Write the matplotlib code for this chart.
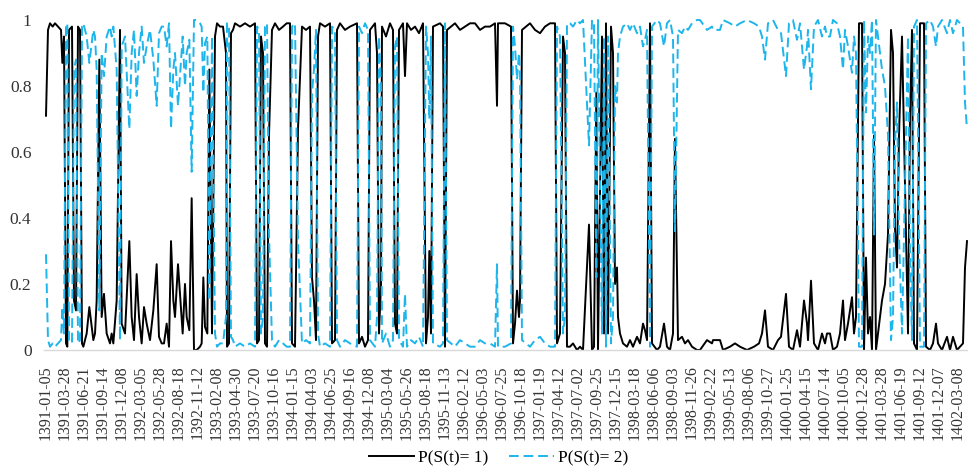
import numpy as np
import matplotlib.pyplot as plt

plt.rcParams['font.family'] = ['Liberation Serif', 'DejaVu Serif']

# tick labels on the category axis (one label every 57 trading days)
dates = ['1391-01-05', '1391-03-28', '1391-06-21', '1391-09-14', '1391-12-08',
         '1392-03-05', '1392-05-28', '1392-08-18', '1392-11-12', '1393-02-08',
         '1393-04-30', '1393-07-20', '1393-10-16', '1394-01-15', '1394-04-03',
         '1394-06-25', '1394-09-16', '1394-12-08', '1395-03-04', '1395-05-26',
         '1395-08-18', '1395-11-13', '1396-02-12', '1396-05-03', '1396-07-25',
         '1396-10-18', '1397-01-19', '1397-04-12', '1397-07-02', '1397-09-25',
         '1397-12-15', '1398-03-18', '1398-06-06', '1398-09-03', '1398-11-26',
         '1399-02-22', '1399-05-13', '1399-08-06', '1399-10-27', '1400-01-25',
         '1400-04-15', '1400-07-14', '1400-10-05', '1400-12-28', '1401-03-28',
         '1401-06-19', '1401-09-12', '1401-12-07', '1402-03-08']
label_step = 57

# P(S(t)=1) as (trading day, probability)
p1_1391 = [(0, .71), (6, .97), (12, .99), (20, .98), (27, .99), (36, .98), (45, .97),
           (49, .87), (54, .95), (60, .02), (64, .01), (69, .97), (78, .98), (84, .15),
           (90, .12), (96, .98), (102, .97), (108, .02)]
p1_1392 = [(112, .01), (122, .05), (130, .13), (142, .03), (147, .05), (152, .15),
           (160, .88), (167, .10), (174, .17), (182, .05), (192, .02), (197, .05),
           (202, .02), (212, .15), (222, .97), (227, .08), (237, .05), (244, .20),
           (250, .33), (257, .10), (264, .03), (272, .23), (279, .10), (287, .02),
           (294, .13), (302, .08), (312, .03), (322, .12), (332, .26), (339, .04),
           (347, .02), (354, .02), (362, .08), (369, .01), (375, .33), (382, .15),
           (387, .10), (396, .26), (402, .17), (410, .05), (417, .20), (422, .10),
           (430, .06), (437, .46), (444, .00), (452, .00), (462, .01), (467, .02),
           (472, .22), (477, .07), (484, .05), (490, .85), (498, .05)]
p1_1393 = [(507, .95), (513, .99), (522, .98), (531, .98), (540, .90), (543, .01),
           (549, .02), (555, .96), (561, .97), (567, .99), (582, .98), (597, .99),
           (612, .98), (627, .99), (633, .02), (639, .03), (645, .95), (651, .90),
           (657, .02), (663, .01), (669, .65), (678, .97), (687, .99), (699, .97),
           (711, .98), (722, .99), (732, .99), (738, .02), (747, .01), (756, .67),
           (768, .98), (780, .97), (792, .98), (798, .22), (804, .15), (810, .03),
           (816, .95), (822, .99), (837, .98), (852, .99)]
p1_1395 = [(858, .02), (867, .03), (873, .97), (882, .99), (897, .97), (912, .98),
           (933, .99), (939, .02), (948, .04), (957, .01), (966, .03), (972, .97),
           (987, .99), (993, .90), (999, .05), (1005, .20), (1008, .98), (1020, .95),
           (1032, .99), (1041, .97), (1047, .08), (1053, .05), (1059, .97), (1071, .99),
           (1077, .83), (1083, .99), (1095, .97), (1107, .98), (1119, .96), (1131, .99),
           (1140, .02), (1146, .10), (1150, .30), (1155, .05), (1161, .98), (1182, .99),
           (1191, .98), (1197, .01), (1203, .97), (1215, .98), (1227, .99), (1242, .97),
           (1257, .98), (1272, .99), (1287, .99), (1302, .97), (1317, .98), (1332, .98),
           (1347, .99), (1353, .74), (1356, .99), (1377, .99), (1395, .98), (1401, .02),
           (1407, .08), (1413, .18), (1419, .10), (1422, .15), (1428, .97), (1452, .99),
           (1467, .97), (1482, .96), (1497, .98), (1512, .99), (1527, .99), (1533, .02)]
p1_1397 = [(1542, .05), (1551, .95), (1557, .90), (1563, .01), (1572, .01), (1581, .02),
           (1593, .00), (1602, .01), (1611, .00), (1629, .38), (1638, .00), (1644, .01),
           (1651, .78), (1656, .00), (1668, .95), (1674, .05), (1680, .99), (1686, .05),
           (1695, .98), (1701, .90), (1707, .20), (1713, .25), (1716, .10), (1722, .05),
           (1731, .02), (1743, .01), (1752, .03), (1761, .01), (1773, .04), (1782, .02),
           (1791, .08), (1797, .06), (1803, .03), (1812, .99), (1818, .02), (1833, .00),
           (1842, .01), (1854, .08), (1863, .01), (1872, .00), (1881, .05), (1887, .64),
           (1896, .03), (1908, .04), (1917, .02), (1926, .03), (1938, .01), (1953, .00)]
p1_1399 = [(1962, .00), (1983, .03), (1998, .02), (2001, .03), (2022, .03), (2031, .00),
           (2052, .01), (2067, .02), (2082, .01), (2103, .00), (2124, .01), (2139, .02),
           (2148, .05), (2157, .12), (2166, .01), (2181, .00), (2196, .03), (2205, .04),
           (2220, .17), (2229, .01), (2241, .00), (2253, .06), (2262, .01), (2274, .15),
           (2283, .08), (2286, .03), (2295, .21), (2304, .02), (2316, .00), (2328, .05),
           (2337, .02), (2343, .05), (2352, .05), (2361, .00), (2373, .01), (2382, .05)]
p1_1401 = [(2391, .15), (2397, .03), (2406, .08), (2418, .16), (2424, .05), (2430, .10),
           (2439, .99), (2448, .99), (2454, .00), (2460, .28), (2466, .05), (2472, .10),
           (2478, .00), (2484, .65), (2490, .00), (2496, .05), (2508, .15), (2517, .20),
           (2526, .35), (2535, .97), (2541, .90), (2547, .37), (2553, .25), (2559, .65),
           (2568, .95), (2577, .50), (2586, .05), (2592, .70), (2598, .97), (2604, .02),
           (2613, .00), (2622, .99), (2634, .99), (2640, .01), (2652, .00), (2661, .02),
           (2670, .08), (2676, .02), (2688, .00), (2703, .04), (2712, .00), (2721, .04),
           (2733, .00), (2742, .01), (2751, .02), (2757, .25), (2763, .33)]

pts = p1_1391 + p1_1392 + p1_1393 + p1_1395 + p1_1397 + p1_1399 + p1_1401
day = np.array([d for d, _ in pts])
p1 = np.array([p for _, p in pts])
p2 = 1 - p1          # two-state model: probabilities add up to one

fig = plt.figure(figsize=(9.68, 4.73), dpi=100)
ax = fig.add_axes([44 / 968, 123 / 473, 924 / 968, 330 / 473])

ax.plot(day, p1, color='black', lw=1.4, label='P(S(t)= 1)', clip_on=False)
ax.plot(day, p2, color='#1cb5ec', lw=1.4, dashes=(5, 2.5), label='P(S(t)= 2)', clip_on=False)

ax.set_xlim(-6, 2766)
ax.set_ylim(0, 1)
ax.set_yticks([0, 0.2, 0.4, 0.6, 0.8, 1])
ax.set_yticklabels(['0', '0.2', '0.4', '0.6', '0.8', '1'])
ax.set_xticks(np.arange(len(dates)) * label_step)
ax.set_xticklabels(dates, rotation=90)
ax.tick_params(axis='both', length=0, colors='#333333')
ax.tick_params(axis='y', pad=9, labelsize=12.5)
ax.tick_params(axis='x', pad=11, labelsize=11.5)

for s in ['top', 'right', 'left']:
    ax.spines[s].set_visible(False)
ax.spines['bottom'].set_color('#d9d9d9')
ax.spines['bottom'].set_linewidth(1)

fig.legend(loc='center', bbox_to_anchor=(0.515, 15 / 473), ncol=2, frameon=False,
           fontsize=12.5, handlelength=2.6, handletextpad=0.2, columnspacing=1.2)

plt.savefig('out.png', dpi=100)
